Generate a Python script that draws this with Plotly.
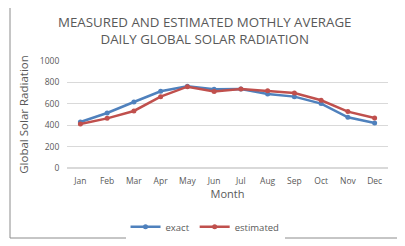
import plotly.graph_objects as go

months = ["Jan", "Feb", "Mar", "Apr", "May", "Jun", "Jul", "Aug", "Sep", "Oct", "Nov", "Dec"]
exact = [430, 514, 617, 717, 763, 735, 738, 692, 667, 602, 474, 421]
estimated = [411, 464, 533, 667, 760, 714, 738, 723, 701, 633, 527, 467]
y_ticks = [0, 200, 400, 600, 800, 1000]

font_family = "Open Sans, Liberation Sans, sans-serif"
grey = "#595959"

fig = go.Figure()
fig.add_trace(go.Scatter(x=months, y=exact, name="exact", mode="lines+markers",
                         line=dict(color="#4F81BD", width=2.5),
                         marker=dict(size=5, color="#4F81BD")))
fig.add_trace(go.Scatter(x=months, y=estimated, name="estimated", mode="lines+markers",
                         line=dict(color="#C0504D", width=2.5),
                         marker=dict(size=5, color="#C0504D")))

# page body adds an 8px margin, so the figure is 8px smaller and offset
fig.update_layout(
    width=397, height=238,
    margin=dict(l=59, r=17, t=53, b=78, autoexpand=False),
    paper_bgcolor="white", plot_bgcolor="white",
    font=dict(family=font_family, color=grey, size=8.5),
    showlegend=True,
    legend=dict(orientation="h", x=0.43, xanchor="center", y=-0.55, yanchor="middle",
                font=dict(size=9.5, color=grey), tracegroupgap=0),
    xaxis=dict(range=[-0.5, 11.5], showgrid=False, showline=False, ticks="outside",
               tickcolor="rgba(0,0,0,0)", ticklen=5,
               tickfont=dict(size=8.5, color=grey), automargin=False,
               title=dict(text="Month", font=dict(size=11, color=grey), standoff=3)),
    yaxis=dict(range=[0, 1000], tickvals=y_ticks, showgrid=True, gridcolor="#D9D9D9",
               gridwidth=1, zeroline=True, zerolinecolor="#D9D9D9", showline=False,
               tickfont=dict(size=8.5, color=grey), ticks="outside", tickcolor="rgba(0,0,0,0)",
               ticklen=5, automargin=False,
               title=dict(text="Global Solar Radiation", font=dict(size=11.5, color=grey), standoff=8)),
)

fig.add_annotation(text="MEASURED AND ESTIMATED MOTHLY AVERAGE<br>DAILY GLOBAL SOLAR RADIATION",
                   xref="paper", yref="paper", x=(205 - 67) / 321, y=(168 - 30) / 107,
                   xanchor="center", yanchor="middle", showarrow=False,
                   font=dict(size=13.3, color=grey, family=font_family))

fig.add_shape(type="rect", xref="paper", yref="paper",
              x0=(10 - 67) / 321, x1=(398 - 67) / 321,
              y0=(168 - 238) / 107, y1=(168 - 7) / 107,
              line=dict(color="#8C8C8C", width=1), layer="below")

fig.write_html("out.html")
